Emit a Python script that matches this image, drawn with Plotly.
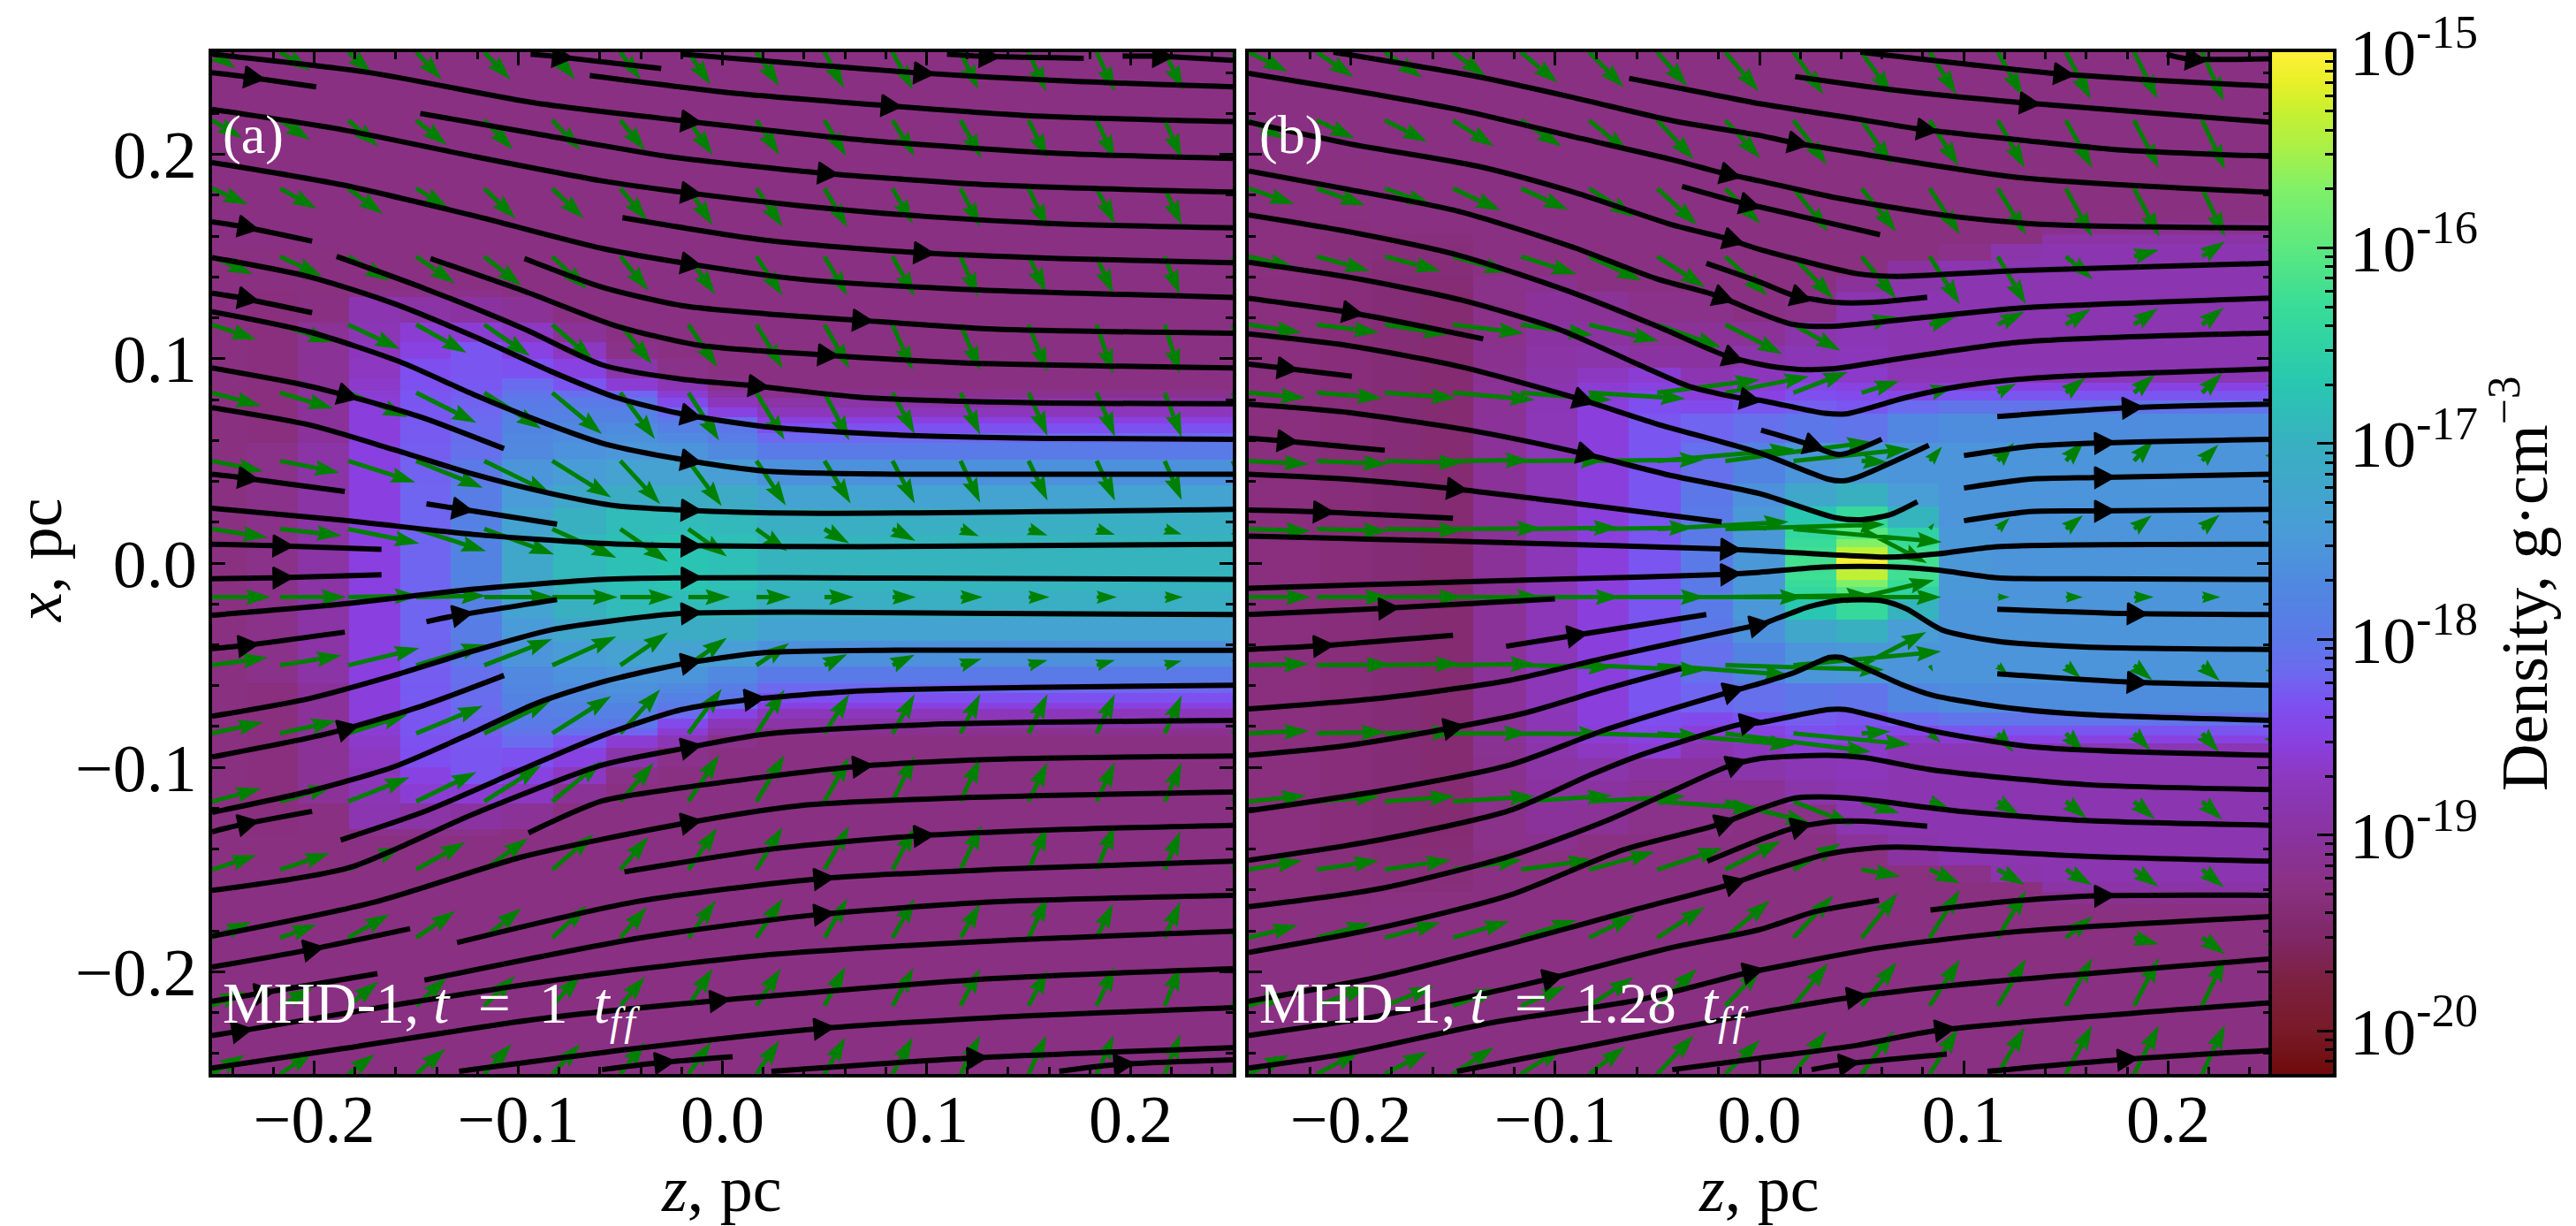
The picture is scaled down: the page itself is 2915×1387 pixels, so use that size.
import numpy as np
import plotly.graph_objects as go

W, H = 2915, 1387
FONT = "Liberation Serif"
GREEN = "#008000"

# colour map (log10 density -> colour)
cs_levels = [-20.22, -20, -19.75, -19.5, -19.28, -19, -18.7, -18.53, -18.33, -18.18, -18,
             -17.72, -17.45, -17, -16.68, -16.3, -16, -15.7, -15.5, -15.3, -15.15, -15]
cs_colors = ['#6e0a0a', '#781a28', '#7c2040', '#80286a', '#8a3080', '#8a33a0', '#8c38c0',
             '#8a40e0', '#7d50f0', '#6e68f0', '#5c78e8', '#5088e0', '#4a9cd8', '#38b0c0',
             '#28c8b0', '#38dc98', '#5ce880', '#80f068', '#a8f048', '#c8f030', '#e8f028', '#fff03a']
cbar_major = [-15, -16, -17, -18, -19, -20]
cbar_labels = ['10<sup>-%d</sup>' % -v for v in cbar_major]

# density, log10 g/cm3: upper half only, top edge down to the midplane (mirrored below it)
a_z_edges = [-.25, -.233, -.208, -.183, -.158, -.133, -.108, -.083, -.057, -.032, -.007, .017, .25]
a_x_edges = [.25, .1543, .1336, .1304, .1177, .1081, .1001, .0906, .0842, .081, .0762, .0714,
             .0682, .0635, .0587, .0507, .0379, .0268, .014, 0]
a_density = [
    [-19.25, -19.25, -19.25, -19.25, -19.25, -19.25, -19.25, -19.25, -19.25, -19.25, -19.25, -19.25],
    [-19.27, -19.28, -19.28, -19.25, -19.25, -19.25, -19.25, -19.25, -19.25, -19.25, -19.25, -19.25],
    [-19.27, -19.30, -19.28, -19.20, -19.20, -19.20, -19.25, -19.25, -19.25, -19.25, -19.25, -19.25],
    [-19.27, -19.30, -19.25, -18.85, -18.95, -19.00, -19.10, -19.25, -19.25, -19.25, -19.25, -19.25],
    [-19.27, -19.30, -19.10, -18.80, -18.60, -18.60, -18.70, -19.10, -19.25, -19.25, -19.25, -19.25],
    [-19.27, -19.30, -19.10, -18.75, -18.50, -18.30, -18.50, -18.70, -19.20, -19.25, -19.25, -19.25],
    [-19.27, -19.30, -19.10, -18.70, -18.35, -18.30, -18.33, -18.50, -18.90, -19.20, -19.25, -19.25],
    [-19.27, -19.30, -19.10, -18.65, -18.33, -18.28, -18.15, -18.30, -18.60, -18.80, -19.20, -19.25],
    [-19.27, -19.30, -19.05, -18.60, -18.30, -18.25, -18.05, -18.10, -18.20, -18.60, -18.95, -19.15],
    [-19.27, -19.30, -19.05, -18.58, -18.30, -18.22, -17.95, -17.95, -18.00, -18.40, -18.75, -18.95],
    [-19.27, -19.30, -19.05, -18.55, -18.28, -18.18, -17.90, -17.85, -17.85, -18.15, -18.50, -18.75],
    [-19.27, -19.30, -19.05, -18.55, -18.28, -18.15, -17.85, -17.80, -17.80, -17.95, -18.15, -18.53],
    [-19.27, -19.30, -19.05, -18.55, -18.27, -18.13, -17.80, -17.72, -17.68, -17.85, -18.00, -18.33],
    [-19.27, -19.30, -19.05, -18.55, -18.26, -18.12, -17.75, -17.65, -17.60, -17.70, -17.90, -18.18],
    [-19.27, -19.20, -18.95, -18.53, -18.25, -18.10, -17.70, -17.58, -17.52, -17.55, -17.70, -17.95],
    [-19.27, -19.20, -18.95, -18.53, -18.22, -17.98, -17.55, -17.42, -17.32, -17.32, -17.40, -17.60],
    [-19.27, -19.20, -18.95, -18.53, -18.20, -17.90, -17.45, -17.20, -17.08, -17.08, -17.12, -17.30],
    [-19.27, -19.20, -18.95, -18.53, -18.20, -17.85, -17.30, -17.00, -16.85, -16.85, -16.90, -17.05],
    [-19.27, -19.20, -18.95, -18.53, -18.20, -17.80, -17.20, -16.90, -16.78, -16.72, -16.80, -16.95],
]

b_z_edges = [-.25, -.215, -.19, -.1655, -.14, -.114, -.089, -.0638, -.0387, -.0129, .0124, .0375,
             .0627, .088, .1132, .1384, .25]
b_x_edges = [.25, .20, .167, .1607, .156, .148, .14, .1328, .118, .1065, .0955, .0881, .0842, .0794,
             .073, .0587, .039, .0275, .0174, .0117, .008, .003, 0]
b_density = [
    [-19.25, -19.25, -19.25, -19.25, -19.25, -19.25, -19.25, -19.25, -19.25, -19.25, -19.25, -19.25, -19.25, -19.25, -19.25, -19.25],
    [-19.28, -19.27, -19.25, -19.25, -19.25, -19.25, -19.25, -19.25, -19.25, -19.28, -19.28, -19.28, -19.28, -19.28, -19.28, -19.28],
    [-19.29, -19.30, -19.28, -19.28, -19.25, -19.25, -19.25, -19.25, -19.25, -19.28, -19.28, -19.28, -19.28, -19.28, -19.28, -19.15],
    [-19.29, -19.32, -19.32, -19.32, -19.25, -19.25, -19.25, -19.25, -19.25, -19.28, -19.28, -19.28, -19.28, -19.28, -19.28, -18.95],
    [-19.29, -19.32, -19.34, -19.34, -19.25, -19.25, -19.25, -19.25, -19.25, -19.28, -19.28, -19.28, -19.28, -19.20, -18.90, -18.85],
    [-19.29, -19.32, -19.36, -19.36, -19.25, -19.25, -19.25, -19.25, -19.25, -19.28, -19.28, -19.28, -19.00, -18.85, -18.85, -18.85],
    [-19.30, -19.35, -19.38, -19.40, -19.20, -19.15, -19.25, -19.25, -19.25, -19.28, -19.25, -19.05, -18.90, -18.85, -18.85, -18.85],
    [-19.30, -19.35, -19.38, -19.42, -19.20, -19.05, -19.10, -19.20, -19.20, -19.25, -19.20, -18.85, -18.85, -18.85, -18.85, -18.85],
    [-19.30, -19.35, -19.38, -19.42, -19.18, -19.00, -19.00, -19.10, -19.10, -19.10, -18.90, -18.80, -18.85, -18.85, -18.85, -18.85],
    [-19.30, -19.35, -19.38, -19.42, -19.15, -18.95, -18.90, -19.00, -19.00, -18.90, -18.80, -18.75, -18.85, -18.85, -18.85, -18.85],
    [-19.30, -19.35, -19.38, -19.42, -19.12, -18.90, -18.70, -18.60, -18.85, -18.75, -18.60, -18.65, -18.80, -18.80, -18.80, -18.80],
    [-19.30, -19.35, -19.38, -19.42, -19.10, -18.85, -18.60, -18.50, -18.75, -18.60, -18.45, -18.50, -18.65, -18.60, -18.50, -18.50],
    [-19.30, -19.35, -19.38, -19.42, -19.10, -18.83, -18.58, -18.42, -18.55, -18.50, -18.35, -18.40, -18.45, -18.30, -18.30, -18.30],
    [-19.30, -19.35, -19.38, -19.42, -19.10, -18.80, -18.55, -18.35, -18.40, -18.30, -18.25, -18.30, -18.15, -18.05, -18.05, -18.05],
    [-19.30, -19.35, -19.38, -19.42, -19.08, -18.78, -18.55, -18.30, -18.20, -18.10, -18.00, -18.05, -17.75, -17.65, -17.65, -17.65],
    [-19.30, -19.35, -19.38, -19.42, -19.08, -18.78, -18.55, -18.30, -18.10, -17.80, -17.55, -17.50, -17.55, -17.55, -17.55, -17.55],
    [-19.30, -19.35, -19.38, -19.42, -19.08, -18.78, -18.55, -18.30, -18.00, -17.60, -17.20, -17.00, -17.40, -17.55, -17.55, -17.55],
    [-19.30, -19.35, -19.38, -19.42, -19.08, -18.78, -18.55, -18.30, -17.95, -17.50, -16.70, -16.35, -16.95, -17.55, -17.55, -17.55],
    [-19.30, -19.35, -19.38, -19.42, -19.08, -18.78, -18.55, -18.30, -17.95, -17.50, -16.40, -16.05, -16.50, -17.50, -17.55, -17.55],
    [-19.30, -19.35, -19.38, -19.42, -19.08, -18.78, -18.55, -18.30, -17.95, -17.50, -16.30, -15.70, -16.30, -17.50, -17.55, -17.55],
    [-19.30, -19.35, -19.38, -19.42, -19.08, -18.78, -18.55, -18.30, -17.95, -17.50, -16.25, -15.35, -16.22, -17.50, -17.55, -17.55],
    [-19.30, -19.35, -19.38, -19.42, -19.08, -18.78, -18.55, -18.30, -17.95, -17.50, -16.20, -15.05, -16.20, -17.50, -17.55, -17.55],
]

# velocity arrows, 16 x 16 grid, rows from x=+0.25 down to x=-0.25
a_u = [
    [36, 46, 36, 39, 40, 35, 31, 34, 35, 30, 31, 27, 27, 28, 28, 25],
    [46, 46, 46, 47, 44, 43, 38, 37, 35, 33, 34, 32, 29, 28, 26, 25],
    [55, 56, 53, 49, 48, 48, 41, 37, 40, 35, 31, 30, 29, 28, 26, 25],
    [62, 64, 63, 59, 57, 53, 43, 41, 40, 35, 34, 27, 27, 25, 23, 22],
    [68, 81, 79, 77, 70, 63, 48, 44, 40, 38, 31, 30, 29, 25, 23, 22],
    [75, 81, 91, 92, 87, 76, 53, 47, 43, 38, 34, 30, 29, 28, 26, 25],
    [78, 91, 103, 102, 102, 90, 61, 51, 45, 40, 34, 30, 29, 28, 26, 25],
    [85, 94, 109, 107, 107, 98, 73, 59, 47, 38, 35, 28, 29, 28, 26, 25],
    [90, 101, 109, 107, 107, 100, 81, 64, 53, 45, 36, 34, 32, 31, 28, 26],
    [85, 94, 109, 107, 104, 98, 73, 59, 50, 35, 34, 32, 29, 28, 26, 25],
    [78, 86, 91, 102, 102, 90, 61, 51, 43, 38, 34, 30, 29, 28, 26, 25],
    [75, 81, 94, 92, 87, 76, 51, 47, 43, 38, 34, 30, 29, 28, 26, 25],
    [68, 76, 83, 75, 67, 63, 43, 44, 40, 38, 34, 32, 29, 28, 24, 23],
    [60, 56, 63, 60, 57, 53, 41, 42, 40, 35, 34, 30, 29, 25, 24, 23],
    [50, 50, 46, 47, 47, 43, 38, 37, 37, 32, 32, 30, 29, 28, 24, 23],
    [50, 51, 41, 45, 42, 43, 38, 35, 35, 32, 31, 30, 27, 26, 24, 23],
]
a_v = [
    [-25, -28, -32, -42, -42, -42, -42, -50, -52, -55, -57, -57, -60, -60, -58, -58],
    [-27, -30, -40, -38, -45, -46, -46, -53, -53, -55, -55, -58, -58, -60, -58, -58],
    [-25, -31, -39, -30, -46, -46, -49, -56, -59, -60, -54, -59, -61, -54, -56, -56],
    [-27, -30, -37, -41, -45, -50, -52, -58, -60, -60, -61, -62, -55, -57, -58, -58],
    [-23, -27, -37, -43, -48, -55, -60, -65, -67, -67, -70, -70, -72, -75, -75, -75],
    [-20, -24, -37, -46, -55, -63, -71, -73, -72, -73, -63, -64, -66, -67, -68, -68],
    [-16, -18, -33, -41, -50, -56, -66, -69, -68, -65, -65, -64, -61, -61, -60, -60],
    [-13, -10, -22, -34, -39, -44, -50, -42, -34, -22, -18, -11, -10, -9, -8, -8],
    [0, 0, 2, 2, 0, 0, 0, 0, 0, 0, 0, 0, 0, 0, 0, 0],
    [12, 15, 26, 32, 40, 44, 50, 42, 34, 17, 16, 10, 8, 8, 7, 7],
    [17, 19, 29, 42, 50, 57, 67, 68, 67, 60, 60, 60, 60, 60, 58, 58],
    [20, 24, 37, 45, 55, 62, 59, 71, 71, 68, 70, 66, 60, 60, 59, 59],
    [22, 25, 35, 42, 48, 54, 50, 64, 65, 67, 65, 68, 66, 68, 59, 59],
    [24, 20, 36, 41, 45, 49, 47, 57, 60, 60, 60, 52, 62, 52, 55, 55],
    [22, 27, 37, 44, 46, 47, 45, 57, 57, 60, 58, 57, 55, 60, 61, 61],
    [29, 34, 30, 39, 46, 46, 49, 49, 51, 56, 56, 59, 59, 59, 61, 61],
]
b_u = [
    [60, 56, 57, 50, 56, 53, 46, 51, 46, 46, 41, 38, 38, 36, 33, 32],
    [55, 58, 65, 63, 62, 60, 56, 53, 51, 46, 44, 41, 40, 38, 35, 33],
    [70, 74, 72, 73, 72, 69, 61, 53, 53, 53, 46, 43, 40, 39, 35, 33],
    [70, 81, 85, 86, 85, 80, 73, 64, 61, 53, 46, 43, 41, 38, 35, 30],
    [81, 95, 97, 108, 110, 106, 98, 87, 72, 54, 38, 41, 38, 37, 33, 30],
    [87, 100, 109, 125, 139, 147, 157, 128, 83, 58, 39, 28, 30, 32, 31, 28],
    [92, 109, 120, 118, 129, 176, 210, 224, 178, 40, 19, 25, 28, 30, 25, 25],
    [95, 109, 120, 136, 149, 160, 201, 244, 227, 100, 7, 18, 26, 27, 27, 25],
    [95, 112, 120, 136, 152, 178, 225, 223, 226, 111, 2, 18, 26, 30, 28, 25],
    [92, 114, 115, 126, 141, 177, 202, 243, 226, 99, 5, 15, 23, 28, 27, 25],
    [92, 106, 110, 116, 126, 175, 210, 223, 178, 44, 17, 24, 28, 25, 26, 25],
    [88, 97, 107, 125, 139, 147, 153, 130, 91, 58, 30, 33, 32, 32, 31, 28],
    [82, 95, 101, 106, 110, 100, 100, 85, 72, 59, 46, 41, 40, 37, 33, 32],
    [75, 83, 85, 86, 85, 70, 73, 68, 61, 55, 46, 43, 41, 38, 35, 30],
    [62, 80, 75, 71, 69, 68, 61, 55, 53, 54, 46, 43, 40, 38, 35, 33],
    [62, 66, 65, 63, 64, 55, 56, 53, 51, 50, 43, 41, 40, 38, 35, 33],
]
b_v = [
    [-30, -38, -39, -37, -47, -54, -52, -60, -65, -65, -65, -67, -72, -72, -75, -75],
    [-28, -28, -33, -40, -40, -50, -60, -58, -68, -68, -70, -73, -73, -73, -75, -75],
    [-24, -26, -26, -34, -33, -44, -56, -54, -66, -66, -70, -71, -74, -74, -74, -74],
    [-17, -22, -22, -24, -27, -37, -47, -60, -65, -65, -73, -73, -35, 10, 23, 25],
    [-12, -12, -15, -13, -16, -25, -35, -45, -40, 12, 11, 20, 24, 25, 26, 27],
    [-8, -8, -8, -11, -11, -9, 20, 25, 32, 18, 10, 14, 23, 28, 30, 30],
    [-5, -5, -3, 1, 1, 2, 18, 29, 18, -2, 22, 28, 30, 32, 25, 25],
    [-3, -3, -2, 1, 2, 2, 11, 7, -20, -52, 9, 17, 21, 21, 22, 22],
    [0, 0, 0, 0, 0, 0, 0, 3, 0, 26, 0, 0, 0, 0, 0, 0],
    [2, 1, 2, 2, -3, -8, -15, -7, 21, 51, -10, -13, -20, -23, -24, -24],
    [4, 2, 2, 0, -1, -5, -18, -28, -17, 3, -14, -29, -30, -26, -29, -29],
    [9, 8, 8, 8, 9, 8, -11, -33, -36, -18, -10, -21, -26, -27, -28, -28],
    [14, 14, 15, 15, 15, 27, 33, 44, 40, -10, -21, -23, -24, -26, -27, -27],
    [19, 22, 23, 25, 27, 35, 47, 57, 65, 68, 73, 72, 33, -10, -25, -25],
    [20, 30, 30, 27, 30, 44, 57, 58, 65, 67, 71, 72, 73, 73, 74, 74],
    [29, 34, 34, 41, 41, 42, 59, 52, 66, 66, 69, 71, 74, 74, 75, 75],
]

# magnetic field lines: (z knots, x knots, z of the arrow head)
a_streams = [
    ([-.25, -.173, -.091, -.02, .069, .165, .25], [.249, .24, .225, .2165, .207, .2005, .198], -.02),
    ([-.02, .094, .165, .25], [.249, .24, .236, .233], .094),
    ([-.25, -.234, -.199], [.24, .238, .233], -.234),
    ([-.094, -.083, -.03], [.249, .248, .242], -.083),
    ([-.065, .005, .078, .149, .25], [.2385, .23, .224, .219, .216], .078),
    ([.11, .126, .177], [.249, .248, .247], .126),
    ([.196, .211, .25], [.248, .248, .246], .211),
    ([-.25, -.186, -.122, -.059, -.02, .037, .101, .165, .25], [.222, .212, .199, .187, .1815, .175, .1695, .166, .164], -.02),
    ([-.148, -.091, -.027, .047, .133, .25], [.22, .21, .199, .191, .185, .1815], .047),
    ([-.049, .021, .094, .165, .25], [.169, .158, .152, .149, .147], .094),
    ([-.25, -.186, -.122, -.059, -.02, .037, .117, .25], [.196, .185, .17, .154, .147, .139, .134, .13], -.02),
    ([-.25, -.237, -.201], [.167, .165, .1575], -.237),
    ([-.097, -.059, -.02, .021, .064, .133, .25], [.149, .135, .126, .122, .119, .1145, .1125], .064),
    ([-.143, -.097, -.052, -.011, .047, .117, .25], [.149, .133, .116, .1065, .102, .098, .0955], .047),
    ([-.189, -.145, -.097, -.059, -.02, .013, .069, .149, .25], [.15, .134, .1145, .097, .09, .087, .081, .0785, .078], .013),
    ([-.25, -.202, -.161, -.122, -.084, -.052, -.02, .021, .085, .165, .25], [.1495, .14, .127, .111, .0938, .081, .073, .0667, .0627, .061, .0606], -.02),
    ([-.25, -.237, -.201], [.132, .13, .1225], -.237),
    ([-.25, -.202, -.158, -.122, -.091, -.059, -.02, .021, .085, .25], [.123, .113, .0985, .0825, .07, .0587, .0507, .045, .0435, .0435], -.02),
    ([-.25, -.209, -.188, -.148, -.107], [.0955, .088, .083, .0715, .056], -.188),
    ([-.25, -.202, -.161, -.122, -.084, -.052, -.02, .037, .25], [.076, .0675, .0555, .0435, .034, .028, .026, .0244, .0263], -.02),
    ([-.25, -.237, -.185], [.0435, .042, .035], -.237),
    ([-.145, -.132, -.081], [.029, .027, .019], -.132),
    ([-.25, -.186, -.122, -.059, -.02, .069, .25], [.0268, .021, .014, .0096, .0085, .008, .0092], -.02),
    ([-.25, -.22, -.167], [.0092, .0085, .0067], -.22),
    ([-.25, -.22, -.167], [-.0077, -.0072, -.0057], -.22),
    ([-.25, -.186, -.122, -.059, -.02, .069, .25], [-.0255, -.02, -.0128, -.008, -.0072, -.0073, -.008], -.02),
    ([-.145, -.132, -.081], [-.0287, -.026, -.0179], -.132),
    ([-.25, -.237, -.185], [-.0418, -.0407, -.0338], -.237),
    ([-.25, -.202, -.161, -.122, -.084, -.052, -.02, .037, .133, .25], [-.075, -.0662, -.055, -.043, -.0327, -.028, -.0247, -.024, -.0247, -.0252], -.02),
    ([-.25, -.209, -.188, -.148, -.107], [-.0949, -.0869, -.0821, -.0702, -.055], -.188),
    ([-.25, -.202, -.161, -.122, -.091, -.059, -.02, .021, .085, .25], [-.122, -.1116, -.0997, -.0829, -.0686, -.0582, -.0494, -.0438, -.0426, -.0427], -.02),
    ([-.25, -.237, -.201], [-.1315, -.1283, -.1215], -.237),
    ([-.187, -.145, -.097, -.059, -.02, .011, .069, .149, .25], [-.1355, -.1212, -.1005, -.0845, -.0717, -.067, -.0625, -.0609, -.0598], .011),
    ([-.25, -.183, -.122, -.059, -.02, .021, .101, .25], [-.1602, -.1491, -.1228, -.0989, -.0909, -.0837, -.079, -.077], -.02),
    ([-.095, -.059, -.02, .064, .133, .25], [-.132, -.1164, -.11, -.0997, -.096, -.0944], .064),
    ([-.25, -.17, -.097, -.02, .037, .117, .25], [-.1826, -.1658, -.1435, -.1276, -.1188, -.1148, -.112], -.02),
    ([-.048, .021, .094, .165, .25], [-.1511, -.1403, -.1336, -.1304, -.1283], .094),
    ([-.25, -.205, -.153], [-.1977, -.1897, -.1789], -.205),
    ([-.13, -.043, .045, .133, .25], [-.1857, -.1658, -.1547, -.1499, -.1459], .045),
    ([-.25, -.229, -.169], [-.2144, -.211, -.2009], -.229),
    ([-.146, -.04, .045, .133, .25], [-.2041, -.1834, -.1722, -.1658, -.1626], .045),
    ([-.25, -.24, -.154, -.059, .027, .133, .25], [-.2312, -.2296, -.2152, -.2009, -.1913, -.1849, -.1802], -.24),
    ([-.25, -.186, -.091, -.006, .133, .25], [-.2471, -.2376, -.2232, -.2144, -.2033, -.1985], -.006),
    ([-.129, -.043, .045, .133, .25], [-.2487, -.2376, -.228, -.2224, -.2176], .045),
    ([-.059, -.033, .005], [-.2479, -.2447, -.2416], -.033),
    ([.024, .12, .25], [-.2487, -.2423, -.2371], .12),
    ([.165, .192, .25], [-.2487, -.2455, -.2431], .192),
]
b_streams = [
    ([-.0638, -.0268, 0, .0478, .0773, .1276, .1754, .25], [.2372, .23, .2248, .2173, .2125, .207, .2022, .199], .0773),
    ([-.2085, -.138, -.0906, -.0427, 0, .0143, .0478, .1276, .25], [.25, .238, .2277, .2165, .2093, .2062, .2006, .1886, .1814], .0143),
    ([.0175, .0638, .1276, .25], [.238, .2317, .2253, .2157], .1276),
    ([.0494, .1443, .1913, .25], [.25, .2396, .2364, .2333], .1443),
    ([.1993, .2089, .25], [.249, .2468, .2468], .2089),
    ([-.25, -.202, -.1448, -.0906, -.0427, -.0188, 0, .0399, .0957, .1435, .25], [.2396, .2317, .2213, .2085, .1974, .191, .187, .1783, .1695, .1655, .1639], -.0188),
    ([-.0379, -.0092, 0, .059], [.1843, .1763, .1743, .1607], -.0092),
    ([-.25, -.202, -.138, -.0906, -.0427, -.0172, 0, .0478, .067, .1276, .25], [.2157, .2054, .1942, .1814, .1655, .1591, .1535, .1416, .1403, .1432, .1467], -.0172),
    ([-.026, 0, .0159, .0367, .0558, .0821], [.1467, .1376, .1312, .1276, .1276, .1301], .0159),
    ([-.25, -.202, -.1464, -.0906, -.0507, -.022, 0, .0159, .0351, .0797, .1276, .25], [.1918, .183, .1719, .1543, .1392, .1312, .1224, .1169, .1158, .1201, .1248, .1296], -.022),
    ([-.25, -.202, -.1464, -.0906, -.0507, -.0172, 0, .0159, .0351, .0638, .1276, .25], [.1703, .1623, .1504, .132, .1161, .1017, .0973, .095, .095, .0993, .1081, .1126], -.0172),
    ([-.25, -.202, -.1464, -.0985, -.0587, -.0348, -.0092, 0, .0319, .0423, .0717, .0989, .1355, .25], [.1472, .14, .1288, .1145, .0969, .0866, .0807, .0797, .0733, .073, .081, .0866, .0906, .095], -.0092),
    ([-.25, -.2038, -.1703, -.1352], [.1296, .1232, .1169, .1097], -.2038),
    ([-.25, -.202, -.1464, -.0906, -.0507, 0, .0335, .0407, .0478, .0829], [.1121, .1065, .0961, .081, .0682, .0539, .0411, .0402, .0419, .0576], -.0906),
    ([.0008, .0223, .0391, .0598], [.065, .0587, .0531, .0606], .0223),
    ([-.25, -.2357, -.1995], [.0973, .0957, .0914], -.2357),
    ([-.25, -.202, -.138, -.089, -.0427, 0, .0367, .0494, .0638, .0773], [.0778, .0738, .0643, .0542, .0427, .034, .0223, .0212, .0236, .03], -.089),
    ([-.25, -.2357, -.1834], [.0611, .06, .0552], -.2357),
    ([-.25, -.202, -.1527, -.0906, -.0185], [.0435, .0411, .0367, .0292, .0201], -.1527),
    ([-.25, -.2181, -.15], [.026, .0252, .022], -.2181),
    ([-.25, -.1862, -.1225, -.0188, 0, .0638, .0877, .1164, .25], [.0132, .0116, .01, .0069, .0061, .0029, .0045, .008, .0092], -.0188),
    ([-.25, -.1703, -.0906, -.0188, 0, .0319, .067, .0877, .1164, .1594, .25], [-.0123, -.0099, -.0077, -.0056, -.0045, -.0019, -.0019, -.0035, -.0072, -.0077, -.008], -.0188),
    ([-.25, -.1862, -.1001], [-.0252, -.0223, -.0175], -.1862),
    ([-.124, -.0938, -.026], [-.0407, -.0359, -.0252], -.0938),
    ([-.25, -.2181, -.15], [-.0423, -.0407, -.0354], -.2181),
    ([-.25, -.1862, -.1225, -.0746, -.0045, 0, .0239, .0399, .059, .0717, .0893, .1164, .1594, .25], [-.0714, -.0662, -.0574, -.0462, -.0311, -.0303, -.0215, -.0183, -.0183, -.0223, -.0327, -.0383, -.0411, -.0423], -.0045),
    ([-.25, -.202, -.1543, -.1145, -.0746, -.0383], [-.0941, -.0893, -.0813, -.0733, -.0614, -.0515], -.1543),
    ([-.25, -.1862, -.1225, -.0746, -.0172, 0, .0175, .0343, .0399, .051, .0686, .0845, .1164, .1594, .25], [-.1212, -.1116, -.0989, -.0813, -.0638, -.059, -.0534, -.0462, -.0462, -.051, -.059, -.0646, -.0702, -.0741, -.077], -.0172),
    ([-.25, -.1862, -.1225, -.0826, -.0587, -.0092, 0, .0335, .0423, .0845, .1355, .25], [-.1454, -.1355, -.1212, -.1036, -.0941, -.0789, -.0781, -.0717, -.0717, -.0821, -.0901, -.0941], -.0092),
    ([-.25, -.1862, -.1225, -.0746, -.0427, -.0156, 0, .0335, .051, .0845, .1594, .25], [-.1682, -.1594, -.1435, -.126, -.1116, -.0996, -.0957, -.0941, -.0952, -.1012, -.1084, -.1108], -.0156),
    ([-.25, -.1862, -.1225, -.0666, -.0212, 0, .0167, .0343, .051, .0957, .1594, .25], [-.1905, -.1786, -.1626, -.1403, -.1283, -.1204, -.1151, -.1145, -.1156, -.1212, -.126, -.1283], -.0212),
    ([-.0255, 0, .0159, .0359, .051, .0821], [-.1459, -.1355, -.1299, -.1264, -.1263, -.1288], .0159),
    ([-.25, -.1862, -.1225, -.0587, -.0164, 0, .0319, .0494, .067, .1594, .25], [-.2144, -.2025, -.1865, -.169, -.1578, -.1523, -.1427, -.14, -.139, -.1435, -.1459], -.0164),
    ([-.25, -.1862, -.1057, -.0427, 0, .0271, .0585], [-.2312, -.2216, -.2041, -.1881, -.1794, -.1706, -.165], -.1057),
    ([.0837, .1196, .1642, .25], [-.1698, -.1658, -.1629, -.1626], .1642),
    ([-.25, -.202, -.1304, -.0587, -.0077, 0, .0598, .1276, .25], [-.2471, -.24, -.2248, -.2137, -.2009, -.1993, -.1881, -.1802, -.173], -.0077),
    ([-.148, -.0906, 0, .043, .0957, .25], [-.2487, -.2376, -.22, -.2128, -.2065, -.1937], .043),
    ([-.0427, 0, .0478, .0861, .25], [-.2479, -.2423, -.236, -.2288, -.2152], .0861),
    ([.0255, .0391, .0917], [-.2479, -.2455, -.2403], .0391),
    ([.1116, .1754, .25], [-.2487, -.2431, -.2384], .1754),
    ([.1164, .1778, .25], [.0717, .0759, .0778], .1778),
    ([.1001, .1323, .1642, .25], [.0526, .0571, .0587, .0606], .1642),
    ([.1001, .1323, .1642, .25], [.0367, .0411, .0419, .0435], .1642),
    ([.1001, .1323, .1642, .25], [.0207, .0252, .0255, .0263], .1642),
    ([.1164, .1802, .25], [-.0226, -.0247, -.0252], .1802),
    ([.1164, .1802, .25], [-.0542, -.0582, -.0598], .1802),
]

# panel boxes in the page, pixels
AX_LEFT = (240, 1395)
AX_RIGHT = (1413, 2569)
AX_BAR = (2571, 2640)
AX_TOP, AX_BOTTOM = 59, 1215
PC = 0.5 / 1156  # pc per pixel
UNIT = PC / 1.352  # pc per arrow value


def polygons(points_list):
    xs, ys = [], []
    for pts in points_list:
        xs += [p[0] for p in pts] + [pts[0][0], None]
        ys += [p[1] for p in pts] + [pts[0][1], None]
    return xs, ys


def quiver_shape(z0, x0, u, v):
    length = np.hypot(u, v) * UNIT
    if length == 0:
        return [(z0, x0)]
    cx, cy = u * UNIT / length, v * UNIT / length
    nx, ny = -cy, cx
    head, notch, hw, sw = 28 * PC, 25 * PC, 9 * PC, 2.5 * PC
    if length < head:
        shrink = length / head
        head, notch, hw, sw = head * shrink, notch * shrink, hw * shrink, sw * shrink
    prof = [(0, sw), (length - notch, sw), (length - head, hw), (length, 0),
            (length - head, -hw), (length - notch, -sw), (0, -sw)]
    return [(z0 + a * cx + b * nx, x0 + a * cy + b * ny) for a, b in prof]


def head_shape(z0, x0, dz, dx):
    n = np.hypot(dz, dx)
    cx, cy = dz / n, dx / n
    nx, ny = -cy, cx
    ln, hw = 22 * PC, 12 * PC
    prof = [(0, hw), (ln, 0), (0, -hw)]
    return [(z0 + a * cx + b * nx, x0 + a * cy + b * ny) for a, b in prof]


def add_panel(fig, z_edges, x_edges, density, us, vs, streams, xa, ya):
    # mirror the upper-half table about the midplane
    y_edges = list(x_edges) + [-e for e in x_edges[-2::-1]]
    rows = list(density) + list(density[::-1])
    fig.add_trace(go.Heatmap(x=z_edges, y=y_edges[::-1], z=rows[::-1], coloraxis="coloraxis",
                             hoverinfo="skip", xaxis=xa, yaxis=ya))
    grid = np.linspace(-0.25, 0.25, 16)
    shapes = []
    for i, x0 in enumerate(grid[::-1]):
        for j, z0 in enumerate(grid):
            shapes.append(quiver_shape(z0, x0, us[i][j], vs[i][j]))
    qx, qy = polygons(shapes)
    fig.add_trace(go.Scatter(x=qx, y=qy, mode="lines", fill="toself", fillcolor=GREEN,
                             line=dict(width=0, color=GREEN), hoverinfo="skip", xaxis=xa, yaxis=ya))
    sx, sy, heads = [], [], []
    for zs, xs, az in streams:
        sx += zs + [None]
        sy += xs + [None]
        az0, az1 = az - 0.004, az + 0.004
        heads.append(head_shape(az, np.interp(az, zs, xs), az1 - az0,
                                np.interp(az1, zs, xs) - np.interp(az0, zs, xs)))
    fig.add_trace(go.Scatter(x=sx, y=sy, mode="lines", hoverinfo="skip", xaxis=xa, yaxis=ya,
                             line=dict(color="black", width=6, shape="spline", smoothing=0.7)))
    hx, hy = polygons(heads)
    fig.add_trace(go.Scatter(x=hx, y=hy, mode="lines", fill="toself", fillcolor="black",
                             line=dict(color="black", width=2), hoverinfo="skip", xaxis=xa, yaxis=ya))


fig = go.Figure()
add_panel(fig, a_z_edges, a_x_edges, a_density, a_u, a_v, a_streams, "x", "y")
add_panel(fig, b_z_edges, b_x_edges, b_density, b_u, b_v, b_streams, "x2", "y2")

# colour bar strip on its own axis, so it can carry log minor ticks
cbar_levels = np.linspace(-20.22, -15, 400).tolist()
fig.add_trace(go.Heatmap(x=[0], y=cbar_levels, z=[[v] for v in cbar_levels], coloraxis="coloraxis",
                         hoverinfo="skip", xaxis="x3", yaxis="y3"))

minor_vals = [d + np.log10(m) for d in range(-21, -15) for m in range(2, 10)
              if -20.22 <= d + np.log10(m) <= -15]


def dom_x(box):
    return [box[0] / W, box[1] / W]


dom_y = [1 - AX_BOTTOM / H, 1 - AX_TOP / H]
tick_font = dict(family=FONT, size=76, color="black")
common = dict(range=[-0.25, 0.25], tick0=0, dtick=0.1, tickformat=".1f", ticks="inside",
              ticklen=15, tickwidth=3, tickcolor="black", showline=True, linecolor="black",
              linewidth=4, mirror="ticks", showgrid=False, zeroline=False, tickfont=tick_font,
              automargin=False,
              minor=dict(dtick=0.02, tick0=0, ticks="inside", ticklen=8, tickwidth=3,
                         tickcolor="black", showgrid=False))

fig.update_layout(
    width=W, height=H, autosize=False, showlegend=False,
    margin=dict(l=0, r=0, t=0, b=0), paper_bgcolor="white", plot_bgcolor="white",
    font=dict(family=FONT, color="black"),
    coloraxis=dict(cmin=cs_levels[0], cmax=cs_levels[-1], showscale=False,
                   colorscale=[[(v - cs_levels[0]) / (cs_levels[-1] - cs_levels[0]), c]
                               for v, c in zip(cs_levels, cs_colors)]),
    xaxis=dict(domain=dom_x(AX_LEFT), anchor="y", ticklabelstandoff=-18, **common),
    yaxis=dict(domain=dom_y, anchor="x", ticklabelstandoff=-2, **common),
    xaxis2=dict(domain=dom_x(AX_RIGHT), anchor="y2", ticklabelstandoff=-18, **common),
    yaxis2=dict(domain=dom_y, anchor="x2", showticklabels=False, **common),
    xaxis3=dict(domain=dom_x(AX_BAR), anchor="y3", range=[-0.5, 0.5], showticklabels=False, automargin=False,
                ticks="", showline=True, linecolor="black", linewidth=4, mirror=True, showgrid=False,
                zeroline=False),
    yaxis3=dict(domain=dom_y, anchor="x3", side="right", range=[cs_levels[0], cs_levels[-1]], automargin=False,
                tickmode="array", tickvals=cbar_major, ticktext=cbar_labels, ticks="inside",
                ticklen=18, tickwidth=3, tickcolor="black", tickfont=dict(family=FONT, size=75, color="black"),
                showline=True, linecolor="black", linewidth=4, mirror=True, showgrid=False, zeroline=False,
                minor=dict(tickmode="array", tickvals=minor_vals, ticks="inside", ticklen=9, tickwidth=3,
                           tickcolor="black", showgrid=False)),
)


def label(text, x, y, size=74, color="black", angle=0, xanchor="center", xref="paper", yref="paper"):
    fig.add_annotation(text=text, x=x, y=y, xref=xref, yref=yref, showarrow=False, textangle=angle,
                       xanchor=xanchor, yanchor="middle", font=dict(family=FONT, size=size, color=color))


SP = "\u2002"
label("<i>z</i>, pc", 817 / W, 1 - 1345 / H)
label("<i>z</i>, pc", 1990 / W, 1 - 1345 / H)
label("<i>x</i>, pc", 44 / W, 1 - 634 / H, angle=-90)
label("Density, g·cm<sup>−3</sup>", 2851 / W, 1 - 660 / H, angle=-90)
label("(a)", 250 / W, 1 - 152 / H, size=62, color="white", xanchor="left")
label("(b)", 1423 / W, 1 - 152 / H, size=62, color="white", xanchor="left")
label(f"MHD-1, <i>t</i>{SP}={SP}1\u2009 <i>t<sub>f\u200af</sub></i>", 250 / W, 1 - 1140 / H, size=65, color="white", xanchor="left")
label(f"MHD-1, <i>t</i>{SP}={SP}1.28\u2009 <i>t<sub>f\u200af</sub></i>", 1423 / W, 1 - 1140 / H, size=65, color="white", xanchor="left")

fig.write_html("out.html", post_script="document.body.style.margin='0';",
               config=dict(displayModeBar=False))
